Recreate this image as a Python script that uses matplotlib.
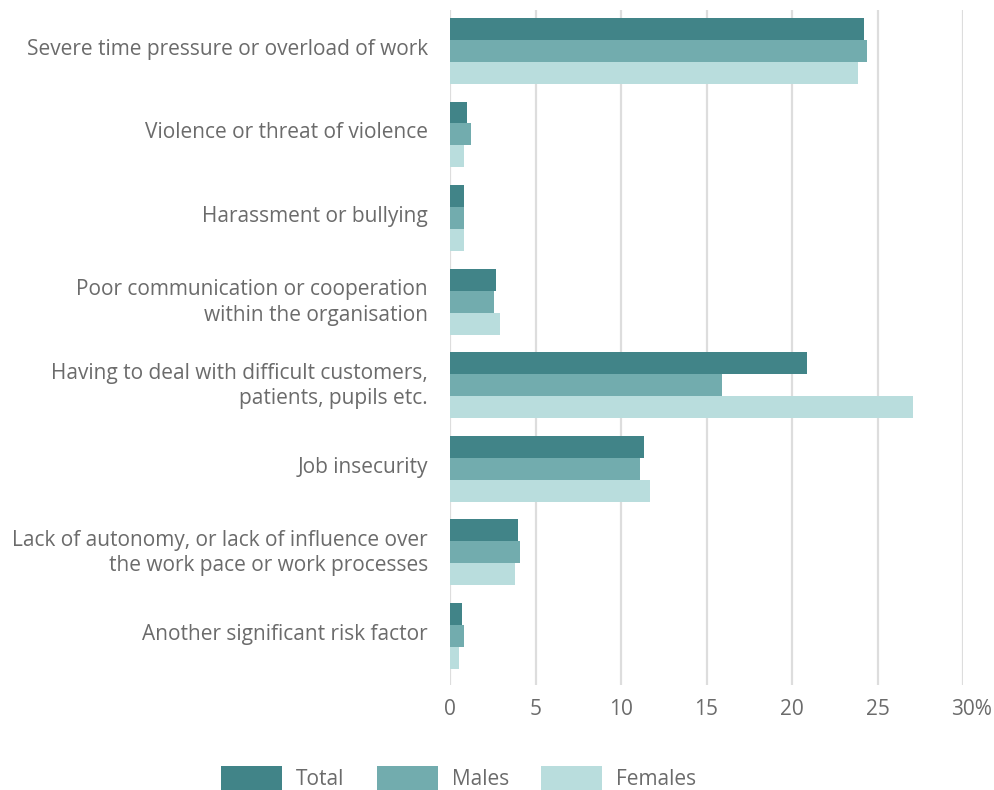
import matplotlib
matplotlib.use("Agg")
import matplotlib.pyplot as plt
import matplotlib.transforms as mtransforms
import numpy as np

plt.rcParams['font.family'] = ['Open Sans', 'DejaVu Sans']

categories = [
    "Severe time pressure or overload of work",
    "Violence or threat of violence",
    "Harassment or bullying",
    "Poor communication or cooperation\nwithin the organisation",
    "Having to deal with difficult customers,\npatients, pupils etc.",
    "Job insecurity",
    "Lack of autonomy, or lack of influence over\nthe work pace or work processes",
    "Another significant risk factor",
]
total = [24.2, 1.0, 0.8, 2.7, 20.9, 11.35, 4.0, 0.7]
males = [24.4, 1.2, 0.8, 2.6, 15.9, 11.1, 4.1, 0.8]
females = [23.85, 0.8, 0.8, 2.9, 27.1, 11.7, 3.8, 0.5]
series_names = ["Total", "Males", "Females"]
xticks = [0, 5, 10, 15, 20, 25, 30]
xticklabels = ["0", "5", "10", "15", "20", "25", "30%"]

colors = ["#418488", "#72acae", "#b9dddd"]
text_color = "#6b6b6b"
fs = 15

fig = plt.figure(figsize=(9.95, 7.9), dpi=100)
ax = fig.add_axes([450/995, 105/790, 513/995, 675/790])

y = np.arange(len(categories))
h = 0.263
for i, (vals, name, c) in enumerate(zip([total, males, females], series_names, colors)):
    ax.barh(y + (i - 1) * h, vals, height=h, color=c, label=name, zorder=3)

ax.set_xlim(0, 30)
ax.set_ylim(7.59, -0.49)
ax.set_yticks(y)
ax.set_yticklabels(categories, fontsize=fs, color=text_color, linespacing=1.3)
ax.set_xticks(xticks)
ax.set_xticklabels(xticklabels, fontsize=fs, color=text_color)
ax.tick_params(axis='both', length=0)
ax.tick_params(axis='y', pad=16)
ax.tick_params(axis='x', pad=10)
ax.grid(axis='x', color='#dddddd', linewidth=1.6, zorder=0)
for s in ax.spines.values():
    s.set_visible(False)

up = mtransforms.ScaledTranslation(0, 4/100, fig.dpi_scale_trans)
for lbl in ax.get_yticklabels():
    lbl.set_transform(lbl.get_transform() + up)
xl = ax.get_xticklabels()
right = mtransforms.ScaledTranslation(8.5/100, 0, fig.dpi_scale_trans)
xl[-1].set_transform(xl[-1].get_transform() + right)

handles, labels = ax.get_legend_handles_labels()
leg = fig.legend(handles, labels, loc='center', bbox_to_anchor=(458.5/995, 12/790),
                 ncol=3, frameon=False, fontsize=fs, handlelength=2.93, handleheight=1.35,
                 handletextpad=0.67, columnspacing=1.55)
for t in leg.get_texts():
    t.set_color(text_color)

fig.savefig("out.png", dpi=100)
